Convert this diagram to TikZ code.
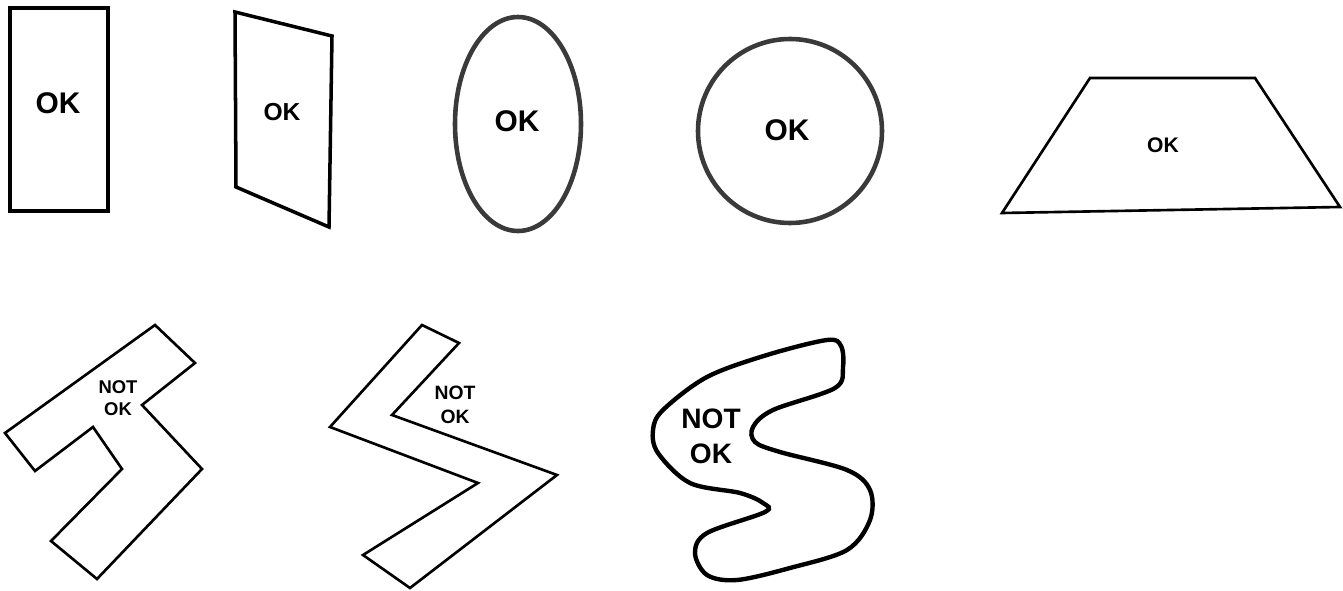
\documentclass[tikz,border=0pt]{standalone}
\usepackage{fontspec}
\setmainfont{Liberation Sans}
\usetikzlibrary{positioning}
\definecolor{ink}{HTML}{000000}
\definecolor{rim}{HTML}{3A3A3A}
\tikzset{
  outline/.style={draw=#1,line width=2pt,line join=miter},
  outline/.default=ink,
  lbl/.style n args={2}{font=\fontsize{#1}{#2}\selectfont\bfseries,text=ink,
    align=center,inner sep=0pt},
}

\begin{document}
\begin{tikzpicture}[x=0.02cm,y=-0.02cm]
    \useasboundingbox[fill=white] (0,0) rectangle (1343,591);
    % top row
    \draw[outline,line width=2.4pt] (10,8) rectangle (108,211);
    \node[lbl={17pt}{20pt}] (okrect) at (58,103) {OK};
    \draw[outline,line width=2pt] (235,12) -- (332,36) -- (329,227) -- (236,187) -- cycle;
    \node[lbl={14pt}{17pt}] (okpara) at (282,112) {OK};
    \draw[outline=rim,line width=2.6pt] (518,124) ellipse [x radius=63,y radius=107];
    \node[lbl={17pt}{20pt}] (okoval) at (517,121) {OK};
    \draw[outline=rim,line width=2.6pt] (790,131) circle [radius=92];
    \node[lbl={17pt}{20pt}] (okcirc) at (787,130) {OK};
    \draw[outline,line width=1.5pt] (1090,78) -- (1255,78) -- (1340,207) -- (1002,213) -- cycle;
    \node[lbl={12pt}{14pt}] (oktrap) at (1163,145) {OK};
    % bottom row
    \draw[outline,line width=1.5pt] (155,325) -- (195,363) -- (142,405) -- (202,469)
      -- (97,579) -- (51,541) -- (122,469) -- (93,427) -- (35,471) -- (5,433) -- cycle;
    \node[lbl={10.5pt}{12.2pt}] (notzig) at (118,398) {NOT\\OK};
    \draw[outline,line width=1.5pt] (422,325) -- (459,343) -- (392,415) -- (557,475)
      -- (410,588) -- (363,555) -- (478,483) -- (330,427) -- cycle;
    \node[lbl={11pt}{14pt}] (notzag) at (455,405) {NOT\\OK};
    \draw[outline,line width=2.5pt] plot[smooth cycle,tension=0.55] coordinates {
      (841,346) (843,367) (835,388) (773,410) (753,427) (755,442) (780,452) (847,470)
      (870,490) (870,520) (847,550) (790,568) (737,580) (707,575) (695,553) (707,533)
      (765,512) (763,503) (740,493) (690,483) (658,453) (653,430) (663,410) (707,377)
      (767,355) (827,340)};
    \node[lbl={16pt}{20pt}] (notblob) at (711,436) {NOT\\OK};
  \end{tikzpicture}
\end{document}
